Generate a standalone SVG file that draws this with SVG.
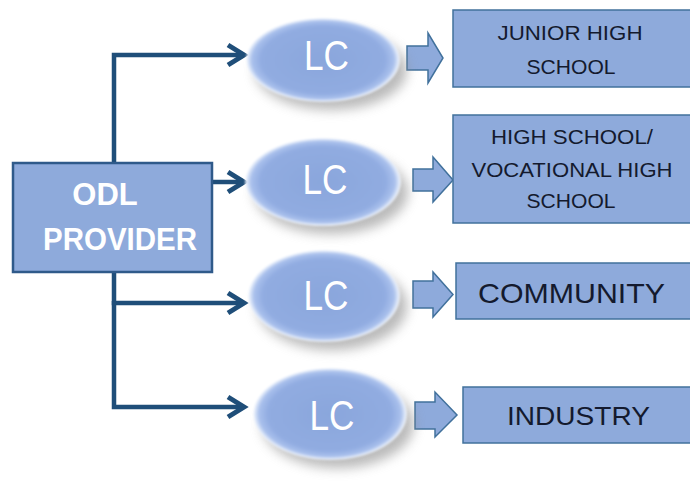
<svg xmlns="http://www.w3.org/2000/svg" width="690" height="483" viewBox="0 0 690 483">
  <defs>
    <style>
      .conn { fill: none; stroke: #1f4e79; stroke-width: 4.5; stroke-linejoin: miter; }
      .box { fill: #8eaadb; stroke: #41719c; stroke-width: 1.5; }
      .barrow { fill: #8eaadb; stroke: #41719c; stroke-width: 1.5; stroke-linejoin: miter; }
      .lc { fill: url(#lcGrad); filter: url(#soft); }
      .shadow { fill: #8c8c8c; opacity: 0.6; filter: url(#blur); }
      .lctext { font-family: "Liberation Sans", Arial, sans-serif; font-size: 42px; fill: #ffffff; text-anchor: middle; }
      .dtext { font-family: "Liberation Sans", Arial, sans-serif; font-size: 21px; fill: #141a2e; text-anchor: middle; }
      .wtext { font-family: "Liberation Sans", Arial, sans-serif; font-size: 31px; font-weight: bold; fill: #ffffff; text-anchor: middle; }
    </style>
    <radialGradient id="lcGrad" cx="50%" cy="50%" r="50%">
      <stop offset="0%" stop-color="#8aa6dc"/>
      <stop offset="80%" stop-color="#91ace1"/>
      <stop offset="92%" stop-color="#a9c0ec"/>
      <stop offset="98%" stop-color="#e2ebfa"/>
      <stop offset="100%" stop-color="#ffffff" stop-opacity="0.7"/>
    </radialGradient>
    <filter id="blur" x="-30%" y="-30%" width="160%" height="160%">
      <feGaussianBlur stdDeviation="6"/>
    </filter>
    <filter id="soft" x="-10%" y="-10%" width="120%" height="120%">
      <feGaussianBlur stdDeviation="0.8"/>
    </filter>
    <marker id="chev" markerUnits="userSpaceOnUse" viewBox="0 0 24 26" refX="19" refY="13" markerWidth="24" markerHeight="26" orient="auto">
      <path d="M3,3 L19,13 L3,23" fill="none" stroke="#1f4e79" stroke-width="5" stroke-linejoin="miter"/>
    </marker>
  </defs>
  <rect width="690" height="483" fill="#ffffff"/>

  <g id="connectors">
    <path class="conn" d="M114,163 V55 H244" marker-end="url(#chev)"/>
    <path class="conn" d="M212,182 H244" marker-end="url(#chev)"/>
    <path class="conn" d="M114,272 V303 H244" marker-end="url(#chev)"/>
    <path class="conn" d="M114,301 V407 H244" marker-end="url(#chev)"/>
    <polygon class="barrow" points="407,46 428,46 428,33 443,58 428,83 428,70 407,70"/>
    <polygon class="barrow" points="413,169 433,169 433,157 453,180 433,202 433,191 413,191"/>
    <polygon class="barrow" points="413,281 433,281 433,272 453,294.5 433,317 433,308 413,308"/>
    <polygon class="barrow" points="415,402 435,402 435,392 457,415 435,437 435,429 415,429"/>
  </g>

  <g id="odl">
    <rect x="13" y="163" width="199" height="109" fill="#8eaadb" stroke="#2f5a8a" stroke-width="2.5"/>
    <text class="wtext" x="105" y="205">ODL</text>
    <text class="wtext" x="120" y="250" textLength="154" lengthAdjust="spacingAndGlyphs">PROVIDER</text>
  </g>

  <g id="lc1">
    <ellipse class="shadow" cx="331" cy="70" rx="76" ry="40"/>
    <ellipse class="lc" cx="323" cy="60" rx="77" ry="42"/>
    <text class="lctext" x="326.5" y="70" textLength="45" lengthAdjust="spacingAndGlyphs">LC</text>
  </g>
  <g id="lc2">
    <ellipse class="shadow" cx="331" cy="192" rx="77" ry="42"/>
    <ellipse class="lc" cx="323" cy="182" rx="78" ry="44"/>
    <text class="lctext" x="325" y="194" textLength="45" lengthAdjust="spacingAndGlyphs">LC</text>
  </g>
  <g id="lc3">
    <ellipse class="shadow" cx="332" cy="306" rx="75" ry="44"/>
    <ellipse class="lc" cx="324" cy="296" rx="76" ry="46"/>
    <text class="lctext" x="326" y="310" textLength="45" lengthAdjust="spacingAndGlyphs">LC</text>
  </g>
  <g id="lc4">
    <ellipse class="shadow" cx="338" cy="424" rx="76" ry="44"/>
    <ellipse class="lc" cx="330" cy="414" rx="77" ry="46"/>
    <text class="lctext" x="332" y="430" textLength="45" lengthAdjust="spacingAndGlyphs">LC</text>
  </g>

  <g id="junior">
    <rect class="box" x="453" y="10" width="250" height="77"/>
    <text class="dtext" x="570" y="40" textLength="145" lengthAdjust="spacingAndGlyphs">JUNIOR HIGH</text>
    <text class="dtext" x="571" y="74" textLength="89" lengthAdjust="spacingAndGlyphs">SCHOOL</text>
  </g>
  <g id="highschool">
    <rect class="box" x="453" y="115" width="250" height="108"/>
    <text class="dtext" x="572" y="144" textLength="162" lengthAdjust="spacingAndGlyphs">HIGH SCHOOL/</text>
    <text class="dtext" x="572" y="177" textLength="201" lengthAdjust="spacingAndGlyphs">VOCATIONAL HIGH</text>
    <text class="dtext" x="571" y="208" textLength="89" lengthAdjust="spacingAndGlyphs">SCHOOL</text>
  </g>
  <g id="community">
    <rect class="box" x="456" y="263" width="250" height="56"/>
    <text class="dtext" x="571.5" y="303" style="font-size:28px" textLength="187" lengthAdjust="spacingAndGlyphs">COMMUNITY</text>
  </g>
  <g id="industry">
    <rect class="box" x="463" y="387" width="250" height="56"/>
    <text class="dtext" x="578.5" y="425" style="font-size:26px" textLength="143" lengthAdjust="spacingAndGlyphs">INDUSTRY</text>
  </g>
</svg>
